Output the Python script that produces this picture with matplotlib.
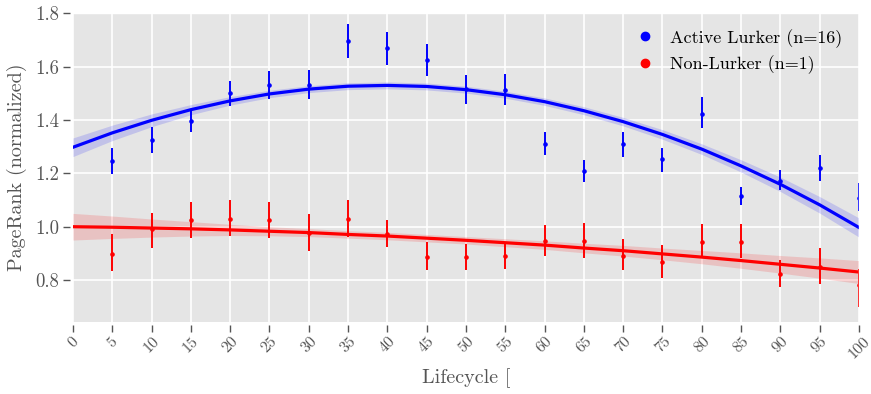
import numpy as np
import matplotlib
matplotlib.use('Agg')
import matplotlib.pyplot as plt
from matplotlib.lines import Line2D

# lifecycle bins and per-bin means with confidence intervals
lifecycle = [5, 10, 15, 20, 25, 30, 35, 40, 45, 50, 55, 60, 65, 70, 75, 80, 85, 90, 95, 100]

lurker_mean = [1.246, 1.325, 1.395, 1.500, 1.533, 1.530, 1.696, 1.669, 1.625, 1.518,
               1.512, 1.311, 1.209, 1.309, 1.253, 1.424, 1.115, 1.172, 1.221, 1.109]
lurker_hi = [1.296, 1.374, 1.440, 1.546, 1.584, 1.586, 1.762, 1.730, 1.684, 1.569,
             1.571, 1.356, 1.249, 1.356, 1.296, 1.485, 1.150, 1.212, 1.269, 1.165]
lurker_lo = [1.196, 1.275, 1.355, 1.452, 1.478, 1.478, 1.631, 1.605, 1.565, 1.459,
             1.455, 1.269, 1.167, 1.263, 1.206, 1.371, 1.081, 1.137, 1.171, 1.059]

nonlurker_mean = [0.899, 0.990, 1.025, 1.028, 1.025, 0.978, 1.028, 0.974, 0.888, 0.886,
                  0.891, 0.946, 0.948, 0.891, 0.866, 0.944, 0.944, 0.822, 0.850, 0.780]
nonlurker_hi = [0.971, 1.050, 1.094, 1.100, 1.094, 1.046, 1.099, 1.025, 0.942, 0.934,
                0.936, 1.005, 1.015, 0.953, 0.931, 1.009, 1.011, 0.874, 0.919, 0.840]
nonlurker_lo = [0.834, 0.921, 0.959, 0.965, 0.959, 0.909, 0.963, 0.925, 0.837, 0.836,
                0.840, 0.890, 0.882, 0.836, 0.809, 0.884, 0.881, 0.774, 0.787, 0.700]

fit_x = [0, 5, 10, 15, 20, 25, 30, 35, 40, 45, 50, 55, 60, 65, 70, 75, 80, 85, 90, 95, 100]
lurker_fit = [1.298, 1.352, 1.399, 1.439, 1.472, 1.498, 1.516, 1.527, 1.530, 1.526, 1.514,
              1.495, 1.469, 1.435, 1.394, 1.346, 1.291, 1.228, 1.159, 1.082, 0.997]
lurker_band = [0.035, 0.029, 0.024, 0.019, 0.016, 0.014, 0.013, 0.013, 0.013, 0.013, 0.013,
               0.013, 0.014, 0.015, 0.016, 0.018, 0.020, 0.023, 0.027, 0.031, 0.036]
nonlurker_fit = [1.000, 0.998, 0.995, 0.992, 0.988, 0.983, 0.978, 0.971, 0.965, 0.957, 0.949,
                 0.940, 0.931, 0.920, 0.910, 0.898, 0.886, 0.873, 0.859, 0.845, 0.830]
nonlurker_band = [0.050, 0.042, 0.034, 0.027, 0.021, 0.017, 0.015, 0.014, 0.014, 0.014, 0.014,
                  0.015, 0.016, 0.018, 0.020, 0.022, 0.025, 0.029, 0.033, 0.038, 0.043]

labels = ['Active Lurker (n=16)', 'Non-Lurker (n=1)']
colors = ['blue', 'red']

plt.style.use('ggplot')
plt.rcParams['font.family'] = 'serif'
plt.rcParams['font.serif'] = ['cmr10', 'DejaVu Serif']
plt.rcParams['mathtext.fontset'] = 'cm'
plt.rcParams['axes.formatter.use_mathtext'] = True
plt.rcParams['axes.unicode_minus'] = False

fig = plt.figure(figsize=(8.71, 3.94), dpi=100)
ax = fig.add_axes([0.0838, 0.183, 0.9024, 0.785])

# ticks sit a little away from the plot area (must come before tick setup)
for side in ['bottom', 'left']:
    ax.spines[side].set_position(('outward', 2))
    ax.spines[side].set_visible(False)

groups = [
    (lurker_mean, lurker_lo, lurker_hi, lurker_fit, lurker_band),
    (nonlurker_mean, nonlurker_lo, nonlurker_hi, nonlurker_fit, nonlurker_band),
]
x = np.array(lifecycle)
fx = np.array(fit_x)
for (mean, lo, hi, fit, band), c in zip(groups, colors):
    mean, lo, hi = np.array(mean), np.array(lo), np.array(hi)
    fit, band = np.array(fit), np.array(band)
    ax.fill_between(fx, fit - band, fit + band, color=c, alpha=0.15, lw=0)
    ax.plot(fx, fit, color=c, lw=2.3)
    ax.errorbar(x, mean, yerr=[mean - lo, hi - mean], fmt='o', color=c,
                markersize=2.3, elinewidth=1.4, capsize=0)

ax.set_xlim(0, 100)
ax.set_ylim(0.643, 1.803)
ax.set_xticks(range(0, 101, 5))
ax.set_xticklabels([str(v) for v in range(0, 101, 5)], rotation=45, fontsize=11.5)
ax.set_yticks([0.8, 1.0, 1.2, 1.4, 1.6, 1.8])
ax.set_yticklabels(['0.8', '1.0', '1.2', '1.4', '1.6', '1.8'], fontsize=13.5)
ax.tick_params(colors='#555555', length=5, width=1.0)
ax.tick_params(axis='x', pad=2)
ax.tick_params(axis='y', pad=3)
ax.grid(True, color='white', lw=1.2)
ax.set_xlabel('Lifecycle [', fontsize=14.5, color='#555555', labelpad=5)
ax.set_ylabel('PageRank (normalized)', fontsize=14.5, color='#555555', labelpad=6)

handles = [Line2D([], [], marker='o', ls='', color=c, markersize=6) for c in colors]
ax.legend(handles, labels, loc='upper right', frameon=False, fontsize=13,
          handletextpad=0.4, labelspacing=0.45)

fig.savefig('out.png', dpi=100)
